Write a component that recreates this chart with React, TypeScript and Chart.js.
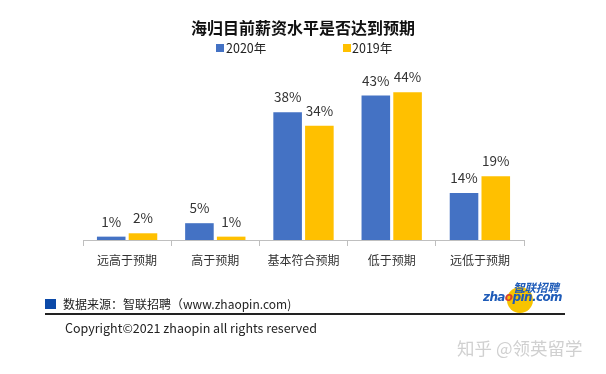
import React, { useEffect, useRef } from "react";
import { Chart, registerables } from "chart.js";

Chart.register(...registerables);

const title = "海归目前薪资水平是否达到预期";
const categories = ["远高于预期", "高于预期", "基本符合预期", "低于预期", "远低于预期"];
const seriesNames = ["2020年", "2019年"];
const values2020 = [1, 5, 38, 43, 14];
const values2019 = [2, 1, 34, 44, 19];
const colors = ["#4472C4", "#FFC000"];

const FONT = "'Noto Sans CJK SC', 'Noto Sans', sans-serif";

const labelPlugin = {
  id: "barLabels",
  afterDatasetsDraw(chart: any) {
    const ctx = chart.ctx;
    ctx.save();
    ctx.font = `13.5px ${FONT}`;
    ctx.fillStyle = "#333333";
    ctx.textAlign = "center";
    ctx.textBaseline = "middle";
    chart.data.datasets.forEach((ds: any, i: number) => {
      const meta = chart.getDatasetMeta(i);
      meta.data.forEach((bar: any, j: number) => {
        ctx.fillText(`${ds.data[j]}%`, bar.x, bar.y - 15);
      });
    });
    ctx.restore();
  },
};

export default function App() {
  const ref = useRef<HTMLCanvasElement | null>(null);
  useEffect(() => {
    if (!ref.current) return;
    const chart = new Chart(ref.current, {
      type: "bar",
      data: {
        labels: categories,
        datasets: [
          { label: seriesNames[0], data: values2020, backgroundColor: colors[0], barPercentage: 0.9, categoryPercentage: 0.72 },
          { label: seriesNames[1], data: values2019, backgroundColor: colors[1], barPercentage: 0.9, categoryPercentage: 0.72 },
        ],
      },
      options: {
        animation: false,
        responsive: false,
        maintainAspectRatio: false,
        layout: { padding: { top: 72, left: 83, right: 82, bottom: 0 } },
        plugins: {
          legend: { display: false },
          title: { display: false },
          tooltip: { enabled: false },
        },
        scales: {
          x: {
            afterFit: (s: any) => {
              s.height = 134;
            },
            grid: {
              display: true,
              drawOnChartArea: false,
              drawTicks: true,
              tickLength: 6,
              color: "#BFBFBF",
              offset: true,
            },
            border: { display: true, color: "#BFBFBF", width: 1 },
            ticks: {
              color: "#333333",
              font: { family: FONT, size: 12 },
              padding: 7,
            },
          },
          y: {
            display: false,
            min: 0,
            max: 50,
          },
        },
      },
      plugins: [labelPlugin],
    });
    return () => chart.destroy();
  }, []);

  const abs = (s: React.CSSProperties): React.CSSProperties => ({ position: "absolute", whiteSpace: "nowrap", ...s });

  return (
    <div style={{ position: "fixed", left: 0, top: 0, width: 606, height: 374, background: "#fff", overflow: "hidden", fontFamily: FONT }}>
      <canvas ref={ref} width={606} height={374} style={{ position: "absolute", left: 0, top: 0, width: 606, height: 374 }} />
      <div style={abs({ left: 0, width: 606, top: 15, textAlign: "center", fontSize: 16, fontWeight: 700, color: "#111", lineHeight: "24px" })}>{title}</div>
      <div style={abs({ left: 216, top: 44, width: 8, height: 8, background: colors[0] })} />
      <div style={abs({ left: 226, top: 40, fontSize: 12.5, color: "#222", lineHeight: "16px" })}>{seriesNames[0]}</div>
      <div style={abs({ left: 343, top: 44, width: 8, height: 8, background: colors[1] })} />
      <div style={abs({ left: 352, top: 40, fontSize: 12.5, color: "#222", lineHeight: "16px" })}>{seriesNames[1]}</div>

      <div style={abs({ left: 45, top: 299, width: 11, height: 10, background: "#0B49A8" })} />
      <div style={abs({ left: 63, top: 295, fontSize: 12, color: "#222", lineHeight: "18px" })}>数据来源：智联招聘（www.zhaopin.com)</div>
      <div style={abs({ left: 45, top: 313, width: 520, height: 1.5, background: "#222" })} />
      <div style={abs({ left: 65, top: 319, fontSize: 12.5, color: "#222", lineHeight: "18px" })}>Copyright©2021 zhaopin all rights reserved</div>

      <div style={abs({ left: 507, top: 287, width: 26, height: 26, borderRadius: "50%", background: "#F7C300" })} />
      <div style={abs({ left: 513, top: 281, fontSize: 11.5, fontStyle: "italic", fontWeight: 700, color: "#1E5BB8", lineHeight: "13px" })}>智联招聘</div>
      <div style={abs({ left: 483, top: 290, fontSize: 12, fontStyle: "italic", fontWeight: 700, color: "#1E5BB8", lineHeight: "15px", fontFamily: "'DejaVu Sans', sans-serif", letterSpacing: -0.6 })}>
        zha<span style={{ color: "#D9412B" }}>o</span>pin.com
      </div>
      <div style={abs({ left: 457, top: 337, fontSize: 17.5, color: "#D0D0D0", lineHeight: "22px" })}>知乎 @领英留学</div>
    </div>
  );
}
